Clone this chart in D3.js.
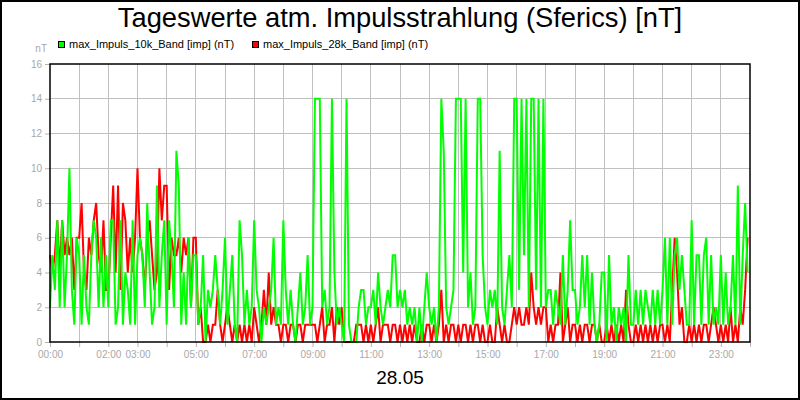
<!DOCTYPE html>
<html><head><meta charset="utf-8">
<script src="https://cdn.jsdelivr.net/npm/d3@7"></script>
<style>body{margin:0;background:#fff}svg{display:block}text{font-family:"Liberation Sans",Arial,sans-serif}</style>
</head><body><svg id="c" width="800" height="400"></svg>
<script>
const title = "Tageswerte atm. Impulsstrahlung (Sferics) [nT]";
const dateLabel = "28.05";
const yUnit = "nT";
const seriesNames = ["max_Impuls_10k_Band [imp] (nT)", "max_Impuls_28k_Band [imp] (nT)"];
const seriesColors = ["#00ff00", "#ff0000"];
const yTicks = [0, 2, 4, 6, 8, 10, 12, 14, 16];
const xTickLabels = ["00:00", "02:00", "03:00", "05:00", "07:00", "09:00", "11:00", "13:00", "15:00", "17:00", "19:00", "21:00", "23:00"];
const stepMinutes = 5;
// 5-minute values, 12 per hour, hours 0..23
const green10k = [
  2,5,3,7,2,7,2,5,10,3,1,6,
  5,1,5,2,1,5,7,6,2,6,2,5,
  2,7,7,1,2,7,1,4,3,1,7,1,
  5,6,5,2,8,4,1,2,9,2,5,7,
  1,7,5,2,11,9,1,4,1,6,2,5,
  5,1,2,5,0,3,2,3,5,3,1,3,
  6,1,3,5,1,0,7,5,1,3,1,2,
  7,3,2,0,2,1,2,3,6,1,2,1,
  7,3,1,3,1,0,2,4,1,2,5,1,
  2,14,14,14,2,3,1,2,14,4,1,2,
  1,0,14,1,0,0,0,2,3,3,1,2,
  2,3,1,4,2,1,2,3,2,5,5,2,
  3,2,3,1,2,1,2,0,2,0,2,4,
  2,1,2,0,2,14,11,2,1,2,3,14,
  14,14,4,14,2,4,1,2,14,14,5,2,
  1,3,2,3,1,11,2,1,3,5,2,14,
  14,3,14,5,14,2,14,14,3,14,2,14,
  2,3,3,1,3,2,1,5,1,3,7,3,
  3,1,2,5,2,5,1,4,1,0,1,4,
  4,0,5,1,2,0,2,1,2,0,5,1,
  1,3,1,3,1,3,2,1,3,1,3,1,
  3,6,1,6,1,5,6,3,5,3,1,1,
  7,1,5,5,1,5,6,1,5,1,2,1,
  5,1,4,1,2,5,1,9,1,5,8,4
];
const red28k = [
  5,4,5,7,4,7,5,6,5,6,3,6,
  6,8,4,3,6,5,7,8,5,4,7,3,
  3,6,9,4,9,3,8,7,4,6,4,6,
  10,6,5,3,6,7,5,3,4,10,7,9,
  9,3,6,5,5,6,4,6,5,6,2,6,
  6,1,2,0,0,1,0,1,1,3,1,0,
  1,2,1,0,1,0,1,0,1,0,1,0,
  2,1,0,1,3,1,4,1,2,1,1,0,
  1,1,0,1,1,0,1,1,0,1,1,1,
  1,1,0,1,2,0,1,1,2,0,2,1,
  2,0,0,0,0,0,1,1,1,0,1,0,
  1,0,1,2,0,1,1,1,0,1,1,0,
  1,0,1,0,1,0,1,0,0,1,0,1,
  1,0,1,0,1,3,0,1,0,1,1,0,
  1,0,1,1,0,1,0,1,1,0,1,0,
  0,1,0,0,2,1,0,1,0,0,1,2,
  1,2,1,1,2,1,4,2,1,2,1,2,
  2,0,1,0,1,1,4,0,1,2,0,1,
  1,0,1,0,1,1,0,1,1,0,1,0,
  0,1,0,1,0,1,0,1,0,3,1,0,
  0,1,0,1,0,1,0,1,0,1,0,1,
  1,0,1,0,3,6,4,1,2,0,0,1,
  0,1,0,1,0,1,1,0,1,2,1,0,
  1,0,1,0,2,0,1,0,2,1,3,6
];

const svg = d3.select("#c");
const L = 50, R = 750, T = 64, B = 342;
const x = d3.scaleLinear().domain([0, 1440]).range([L, R]);
const y = d3.scaleLinear().domain([0, 16]).range([B, T]);
const gray = "#b4b4b4", lab = "#a8a8a8";

svg.append("rect").attr("width", 800).attr("height", 400).attr("fill", "#fff");

// grid
const hours = d3.range(1, 24);
svg.append("g").selectAll("line").data(hours).join("line")
  .attr("x1", d => x(d * 60)).attr("x2", d => x(d * 60)).attr("y1", T).attr("y2", B)
  .attr("stroke", "#c0c0c0").attr("stroke-width", 1).attr("shape-rendering", "crispEdges");
svg.append("g").selectAll("line").data(yTicks.slice(1, -1)).join("line")
  .attr("x1", L).attr("x2", R).attr("y1", d => y(d)).attr("y2", d => y(d))
  .attr("stroke", "#c0c0c0").attr("stroke-width", 1).attr("shape-rendering", "crispEdges");

// y axis
const ya = svg.append("g").attr("transform", `translate(${L},0)`)
  .call(d3.axisLeft(y).tickValues(yTicks).tickSize(5).tickPadding(3).tickFormat(d3.format("d")));
ya.select(".domain").remove();
ya.selectAll("line").attr("stroke", gray);
ya.selectAll("text").attr("fill", lab).attr("font-size", 10).attr("font-family", "Liberation Sans, Arial");

// x axis
const xTickVals = d3.range(0, 25).map(h => h * 60);
const labMap = new Map(xTickLabels.map(s => [parseInt(s) * 60, s]));
const xa = svg.append("g").attr("transform", `translate(0,${B})`)
  .call(d3.axisBottom(x).tickValues(xTickVals).tickSize(5).tickPadding(4).tickFormat(d => labMap.get(d) || ""));
xa.select(".domain").remove();
xa.selectAll("line").attr("stroke", gray);
xa.selectAll("text").attr("fill", lab).attr("font-size", 10).attr("font-family", "Liberation Sans, Arial");

// lines
const line = d3.line().x((d, i) => x(i * stepMinutes)).y(d => y(d));
const g = svg.append("g");
[red28k, green10k].forEach((arr, k) => {
  g.append("path").datum(arr).attr("d", line).attr("fill", "none")
    .attr("stroke", k === 0 ? seriesColors[1] : seriesColors[0]).attr("stroke-width", 2).attr("stroke-linejoin", "miter");
});

// frame
svg.append("rect").attr("x", L).attr("y", T).attr("width", R - L).attr("height", B - T)
  .attr("fill", "none").attr("stroke", "#000").attr("stroke-width", 1.5);

// title
svg.append("text").attr("x", 400).attr("y", 27).attr("text-anchor", "middle")
  .attr("font-size", 27.3).attr("fill", "#000").text(title);

// legend
const lx = [58, 252];
seriesNames.forEach((n, i) => {
  svg.append("rect").attr("x", lx[i] + 0.5).attr("y", 41.5).attr("width", 6).attr("height", 6)
    .attr("fill", seriesColors[i]).attr("stroke", "#000").attr("stroke-width", 1);
  svg.append("text").attr("x", lx[i] + 11).attr("y", 48).attr("font-size", 11).attr("fill", "#000").text(n);
});

svg.append("text").attr("x", 47).attr("y", 52).attr("text-anchor", "end")
  .attr("font-size", 10).attr("fill", lab).text(yUnit);

svg.append("text").attr("x", 400).attr("y", 384).attr("text-anchor", "middle")
  .attr("font-size", 19).attr("fill", "#000").text(dateLabel);

// outer border
svg.append("rect").attr("x", 1).attr("y", 1).attr("width", 798).attr("height", 398)
  .attr("fill", "none").attr("stroke", "#000").attr("stroke-width", 2);
</script></body></html>
